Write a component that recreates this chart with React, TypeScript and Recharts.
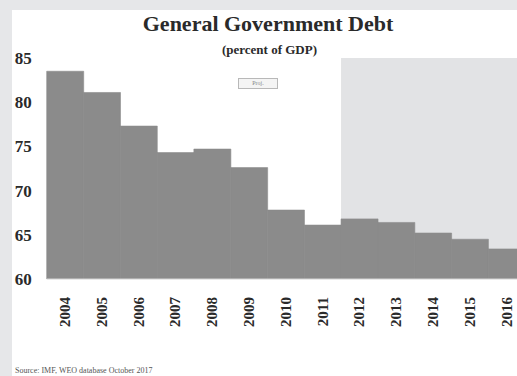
import React from 'react';
import { BarChart, Bar, XAxis, YAxis, ReferenceArea } from 'recharts';

const years = ['2004', '2005', '2006', '2007', '2008', '2009', '2010', '2011', '2012', '2013', '2014', '2015', '2016'];
const debt = [83.5, 81.1, 77.3, 74.3, 74.7, 72.6, 67.8, 66.1, 66.8, 66.4, 65.2, 64.5, 63.4];
const yTicks = [60, 65, 70, 75, 80, 85];

const data = years.map((y, i) => ({ year: y, debt: debt[i] }));

const serif = '"Liberation Serif", "DejaVu Serif", serif';

// rotated year labels under each bar
const YearTick = (props: any) => {
  const { x, y, payload } = props;
  return (
    <text
      transform={`translate(${x},${y + 10}) rotate(-90)`}
      textAnchor="end"
      dominantBaseline="central"
      fontFamily={serif}
      fontWeight="bold"
      fontSize={15}
      fill="#2a2a2a"
    >
      {payload.value}
    </text>
  );
};

const App: React.FC = () => {
  return (
    <div style={{ position: 'absolute', left: 0, top: 0, width: 517, height: 376, overflow: 'hidden', background: '#e6e7e9' }}>
      <div style={{ position: 'absolute', left: 12, top: 10, right: 0, bottom: 0, background: '#ffffff' }} />
      <div style={{ position: 'absolute', left: 0, top: 0 }}>
        <BarChart width={530} height={376} data={data} margin={{ top: 58, right: 5, bottom: 0, left: 0 }} barCategoryGap={0}>
          <ReferenceArea x1="2012" x2="2016" y1={60} y2={85} fill="#e2e3e5" fillOpacity={1} stroke="none" />
          <XAxis
            dataKey="year"
            height={97}
            tickLine={false}
            axisLine={{ stroke: '#d4d4d4' }}
            tick={<YearTick />}
            interval={0}
          />
          <YAxis
            width={46.7}
            domain={[60, 85]}
            ticks={yTicks}
            axisLine={false}
            tickLine={false}
            tickSize={0}
            tickMargin={15}
            allowDataOverflow
            tick={{ fontFamily: serif, fontWeight: 'bold', fontSize: 17, fill: '#2a2a2a' }}
          />
          <Bar dataKey="debt" fill="#8b8b8b" stroke="#8b8b8b" strokeWidth={0.6} isAnimationActive={false} />
        </BarChart>
      </div>
      <div style={{ position: 'absolute', left: 0, width: 536, top: 12, textAlign: 'center', fontFamily: serif, fontWeight: 'bold', fontSize: 22, color: '#2a2a2a', lineHeight: '24px' }}>
        General Government Debt
      </div>
      <div style={{ position: 'absolute', left: 0, width: 539, top: 43, textAlign: 'center', fontFamily: serif, fontWeight: 'bold', fontSize: 13, color: '#2a2a2a', lineHeight: '14px' }}>
        (percent of GDP)
      </div>
      <div style={{ position: 'absolute', left: 238, top: 78, width: 38, height: 9, border: '1px solid #b8b8b8', background: '#f4f4f4', fontFamily: serif, fontSize: 6, lineHeight: '9px', textAlign: 'center', color: '#888' }}>
        Proj.
      </div>
      <div style={{ position: 'absolute', left: 15, top: 366, fontFamily: serif, fontSize: 8, color: '#555', lineHeight: '9px', whiteSpace: 'nowrap' }}>
        Source: IMF, WEO database October 2017
      </div>
    </div>
  );
};

export default App;
